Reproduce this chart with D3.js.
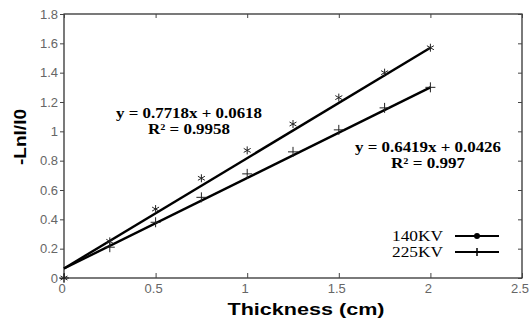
<!DOCTYPE html>
<html>
<head>
<meta charset="utf-8">
<script src="https://cdn.jsdelivr.net/npm/d3@7"></script>
<style>
  body { margin: 0; background: #fff; }
  svg { display: block; }
</style>
</head>
<body>
<svg width="532" height="322"></svg>
<script>
// data
var thickness = [0, 0.25, 0.5, 0.75, 1, 1.25, 1.5, 1.75, 2];
var kv140 = [0, 0.25, 0.47, 0.68, 0.87, 1.05, 1.23, 1.40, 1.57];
var kv225 = [0, 0.21, 0.38, 0.55, 0.71, 0.86, 1.01, 1.16, 1.30];
var seriesNames = ["140KV", "225KV"];
// fitted lines as drawn (start / end)
var fitX = [0, 2];
var fit140 = [0.065, 1.57];
var fit225 = [0.065, 1.30];
var eq140 = ["y = 0.7718x + 0.0618", "R\u00b2 = 0.9958"];
var eq225 = ["y = 0.6419x + 0.0426", "R\u00b2 = 0.997"];
var xTicks = [0, 0.5, 1, 1.5, 2, 2.5];
var yTicks = [0, 0.2, 0.4, 0.6, 0.8, 1, 1.2, 1.4, 1.6, 1.8];

var svg = d3.select("svg");
var plotL = 64, plotR = 522, plotT = 14, plotB = 278;

var x = d3.scaleLinear().domain([0, 2.5]).range([plotL, plotR]);
var y = d3.scaleLinear().domain([0, 1.8]).range([plotB, plotT]);

var tickFont = "'Liberation Sans', Arial, sans-serif";

// frame
svg.append("rect")
    .attr("x", plotL).attr("y", plotT)
    .attr("width", plotR - plotL).attr("height", plotB - plotT)
    .attr("fill", "none").attr("stroke", "#222").attr("stroke-width", 1.2);

// left axis (outward ticks)
var yAxis = svg.append("g")
    .attr("transform", "translate(" + plotL + ",0)")
    .call(d3.axisLeft(y).tickValues(yTicks).tickSize(4).tickPadding(2)
      .tickFormat(function(d) { return +d.toFixed(1); }));
yAxis.select(".domain").remove();
yAxis.selectAll("line").attr("stroke", "#444");
yAxis.selectAll("text").attr("font-family", tickFont).attr("font-size", 13).attr("fill", "#666");

// right inner ticks
var yRight = svg.append("g")
    .attr("transform", "translate(" + plotR + ",0)")
    .call(d3.axisLeft(y).tickValues(yTicks).tickSize(4).tickFormat(""));
yRight.select(".domain").remove();
yRight.selectAll("line").attr("stroke", "#444");

// bottom axis (inward ticks)
var xAxis = svg.append("g")
    .attr("transform", "translate(0," + plotB + ")")
    .call(d3.axisTop(x).tickValues(xTicks).tickSize(5).tickFormat(""));
xAxis.select(".domain").remove();
xAxis.selectAll("line").attr("stroke", "#444");
svg.append("g").selectAll("text")
    .data(xTicks).enter().append("text")
    .attr("x", function(d) { return x(d) - 2; })
    .attr("y", plotB + 15)
    .attr("text-anchor", "middle")
    .attr("font-family", tickFont).attr("font-size", 13).attr("fill", "#666")
    .text(function(d) { return d; });

// top inner ticks
var xTop = svg.append("g")
    .attr("transform", "translate(0," + plotT + ")")
    .call(d3.axisBottom(x).tickValues(xTicks).tickSize(4).tickFormat(""));
xTop.select(".domain").remove();
xTop.selectAll("line").attr("stroke", "#444");

// fitted lines
var line = d3.line()
    .x(function(d) { return x(d[0]); })
    .y(function(d) { return y(d[1]); });
[fit140, fit225].forEach(function(f) {
  svg.append("path")
      .datum(d3.zip(fitX, f))
      .attr("d", line)
      .attr("fill", "none").attr("stroke", "#000").attr("stroke-width", 2.4);
});

// markers
function star(g, cx, cy, r) {
  [[0, -1, 0, 1], [-0.87, -0.5, 0.87, 0.5], [-0.87, 0.5, 0.87, -0.5]].forEach(function(s) {
    g.append("line")
      .attr("x1", cx + s[0] * r).attr("y1", cy + s[1] * r)
      .attr("x2", cx + s[2] * r).attr("y2", cy + s[3] * r)
      .attr("stroke", "#222").attr("stroke-width", 1);
  });
}
function plus(g, cx, cy, r) {
  g.append("line").attr("x1", cx - r).attr("x2", cx + r).attr("y1", cy).attr("y2", cy)
    .attr("stroke", "#222").attr("stroke-width", 1);
  g.append("line").attr("x1", cx).attr("x2", cx).attr("y1", cy - r).attr("y2", cy + r)
    .attr("stroke", "#222").attr("stroke-width", 1);
}
var marks = svg.append("g");
thickness.forEach(function(t, i) {
  star(marks, x(t), y(kv140[i]), 4);
  plus(marks, x(t), y(kv225[i]), 5);
});

// equations
var eqFont = "'Liberation Serif', 'Times New Roman', serif";
function eq(lines, cx, cy, widths) {
  lines.forEach(function(s, i) {
    svg.append("text")
      .attr("x", cx).attr("y", cy + i * 16)
      .attr("text-anchor", "middle")
      .attr("font-family", eqFont).attr("font-weight", "bold").attr("font-size", 14)
      .attr("textLength", widths[i]).attr("lengthAdjust", "spacingAndGlyphs")
      .text(s);
  });
}
eq(eq140, 189, 118, [146, 82]);
eq(eq225, 428, 152, [146, 74]);

// legend
var legend = svg.append("g");
seriesNames.forEach(function(name, i) {
  var ly = 236 + i * 16;
  legend.append("text")
    .attr("x", 443).attr("y", ly + 5)
    .attr("text-anchor", "end")
    .attr("font-family", eqFont).attr("font-size", 14)
    .attr("textLength", 51).attr("lengthAdjust", "spacingAndGlyphs")
    .text(name);
  legend.append("line")
    .attr("x1", 455).attr("x2", 499).attr("y1", ly).attr("y2", ly)
    .attr("stroke", "#000").attr("stroke-width", 2);
  if (i === 0) {
    legend.append("circle").attr("cx", 477).attr("cy", ly).attr("r", 3).attr("fill", "#000");
  } else {
    legend.append("line").attr("x1", 477).attr("x2", 477).attr("y1", ly - 4).attr("y2", ly + 4)
      .attr("stroke", "#000").attr("stroke-width", 1.5);
  }
});

// axis titles
svg.append("text")
    .attr("x", 306).attr("y", 315)
    .attr("text-anchor", "middle")
    .attr("font-family", tickFont).attr("font-weight", "bold").attr("font-size", 17)
    .attr("textLength", 157).attr("lengthAdjust", "spacingAndGlyphs")
    .text("Thickness (cm)");
svg.append("text")
    .attr("transform", "translate(26,137) rotate(-90)")
    .attr("text-anchor", "middle")
    .attr("font-family", tickFont).attr("font-weight", "bold").attr("font-size", 17)
    .attr("textLength", 56).attr("lengthAdjust", "spacingAndGlyphs")
    .text("-Lnl/I0");
</script>
</body>
</html>
